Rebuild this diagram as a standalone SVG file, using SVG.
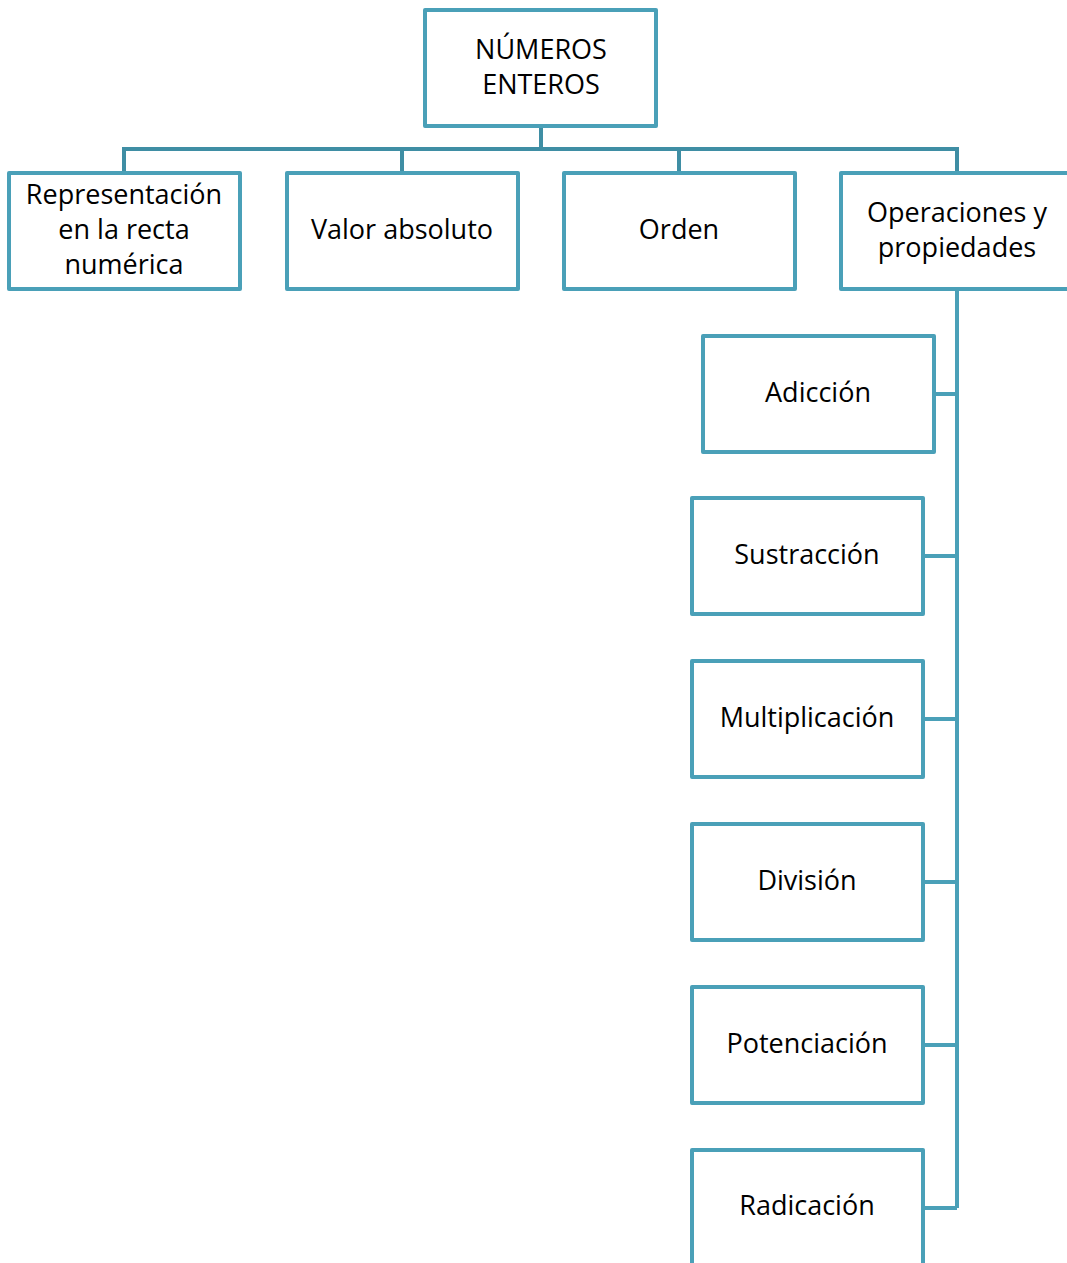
<svg xmlns="http://www.w3.org/2000/svg" width="1067" height="1263" viewBox="0 0 1067 1263">
<style>
.box{fill:#ffffff;stroke:#4aa0b8;stroke-width:4;stroke-linejoin:round}
.t{font-family:"Open Sans","Liberation Sans",sans-serif;font-size:27px;fill:#000000;text-anchor:middle}
.c1{fill:none;stroke:#3f8ea4;stroke-width:4}
.c2{fill:none;stroke:#4aa0b8;stroke-width:4}
</style>
<rect width="1067" height="1263" fill="#ffffff"/>
<g id="connectors">
<path class="c1" d="M541 126V149M124 173V149H957V173M402 149V173M679 149V173"/>
<path class="c2" d="M957 289V1208M934 394H957M924 556H957M924 719H957M924 882H957M924 1045H957M924 1208H957"/>
</g>
<g id="n0"><rect class="box" x="425" y="10" width="231" height="116"/><text class="t" x="541" y="59">NÚMEROS</text><text class="t" x="541" y="94">ENTEROS</text></g>
<g id="n1"><rect class="box" x="9" y="173" width="231" height="116"/><text class="t" x="124" y="204">Representación</text><text class="t" x="124" y="239">en la recta</text><text class="t" x="124" y="274">numérica</text></g>
<g id="n2"><rect class="box" x="287" y="173" width="231" height="116"/><text class="t" x="402" y="239">Valor absoluto</text></g>
<g id="n3"><rect class="box" x="564" y="173" width="231" height="116"/><text class="t" x="679" y="239">Orden</text></g>
<g id="n4"><rect class="box" x="841" y="173" width="231" height="116"/><text class="t" x="957" y="222">Operaciones y</text><text class="t" x="957" y="257">propiedades</text></g>
<g id="n5"><rect class="box" x="703" y="336" width="231" height="116"/><text class="t" x="818" y="402">Adicción</text></g>
<g id="n6"><rect class="box" x="692" y="498" width="231" height="116"/><text class="t" x="807" y="564">Sustracción</text></g>
<g id="n7"><rect class="box" x="692" y="661" width="231" height="116"/><text class="t" x="807" y="727">Multiplicación</text></g>
<g id="n8"><rect class="box" x="692" y="824" width="231" height="116"/><text class="t" x="807" y="890">División</text></g>
<g id="n9"><rect class="box" x="692" y="987" width="231" height="116"/><text class="t" x="807" y="1053">Potenciación</text></g>
<g id="n10"><rect class="box" x="692" y="1150" width="231" height="116"/><text class="t" x="807" y="1215">Radicación</text></g>
</svg>
